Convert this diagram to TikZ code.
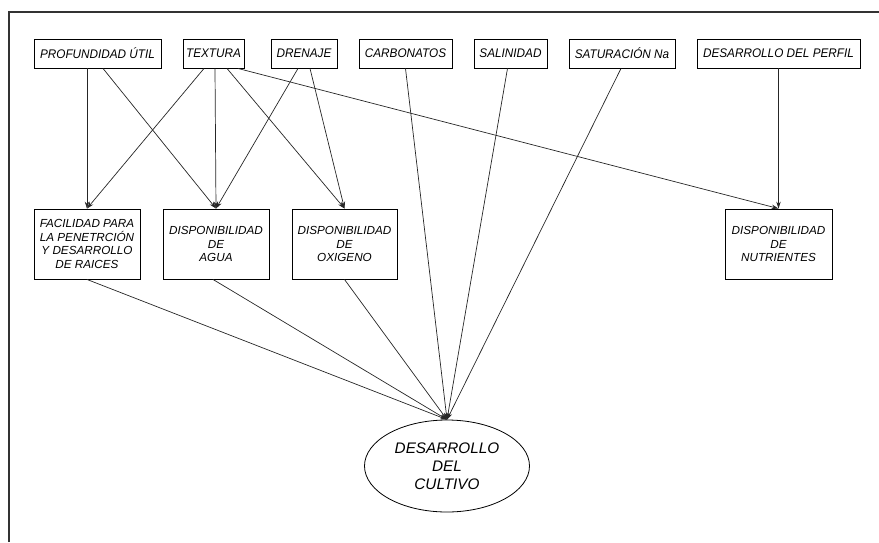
\documentclass[tikz,border=0pt]{standalone}
\usepackage{fontspec}
\setmainfont{Liberation Sans}
\newfontfamily\estrecha{Liberation Sans}[FakeStretch=0.94]
\usetikzlibrary{arrows.meta,shapes.geometric}

\begin{document}
\begin{tikzpicture}[x=1pt, y=-1pt,
	caja/.style={draw, line width=0.9pt, inner sep=0pt, minimum height=29pt, font=\estrecha\fontsize{12.5}{14}\selectfont\itshape},
	cajamedia/.style={draw, line width=0.9pt, inner sep=0pt, minimum width=106pt, minimum height=70pt, align=center, font=\fontsize{11.7}{13.6}\selectfont\itshape},
	flecha/.style={draw=black!85, line width=0.7pt, -{Stealth[length=7pt,width=4.5pt]}}]
			\useasboundingbox (0,0) rectangle (879,542);
			% marco
			\draw [line width=2pt, black!80] (9,542) -- (9,12) -- (879,12);
			% factores
			\node[caja, minimum width=127pt] (prof) at (97.5,53.5) {PROFUNDIDAD ÚTIL};
			\node[caja, minimum width=61pt] (text) at (213.5,53.5) {TEXTURA};
			\node[caja, minimum width=66pt] (dren) at (304,53.5) {DRENAJE};
			\node[caja, minimum width=93pt] (carb) at (405.5,53.5) {CARBONATOS};
			\node[caja, minimum width=73pt] (sal) at (510.5,53.5) {SALINIDAD};
			\node[caja, minimum width=106pt] (sat) at (622,53.5) {SATURACIÓN Na};
			\node[caja, minimum width=163pt] (perf) at (778.5,53.5) {DESARROLLO DEL PERFIL};
			% cualidades
			\node[cajamedia] (fac) at (87,244) {FACILIDAD PARA\\LA PENETRCIÓN\\Y DESARROLLO\\DE RAICES};
			\node[cajamedia] (agua) at (216,244) {DISPONIBILIDAD\\DE\\AGUA};
			\node[cajamedia, minimum width=105pt] (oxi) at (344.5,244) {DISPONIBILIDAD\\DE\\OXIGENO};
			\node[cajamedia, minimum width=107pt] (nut) at (778.5,244) {DISPONIBILIDAD\\DE\\NUTRIENTES};
			% cultivo
			\node[ellipse, draw, line width=0.8pt, minimum width=165pt, minimum height=92pt, inner sep=0pt, align=center, font=\fontsize{15.3}{18}\selectfont\itshape] (cult) at (447,466) {DESARROLLO\\DEL\\CULTIVO};
			% relaciones
			\draw[flecha] ([xshift=-10.5pt]prof.south) -- (fac.north);
			\draw[flecha] ([xshift=5.5pt]prof.south) -- (agua.north);
			\draw[flecha] ([xshift=-9.5pt]text.south) -- (fac.north);
			\draw[flecha] ([xshift=1.5pt]text.south) -- (agua.north);
			\draw[flecha] ([xshift=13.5pt]text.south) -- (oxi.north);
			\draw[flecha] ([xshift=24.5pt]text.south) -- (nut.north);
			\draw[flecha] ([xshift=-6pt]dren.south) -- (agua.north);
			\draw[flecha] ([xshift=6pt]dren.south) -- (oxi.north);
			\draw[flecha] (carb.south) -- (cult.north);
			\draw[flecha] ([xshift=-3pt]sal.south) -- (cult.north);
			\draw[flecha] ([xshift=-1pt]sat.south) -- (cult.north);
			\draw[flecha] (perf.south) -- (nut.north);
			\draw[flecha] (fac.south) -- (cult.north);
			\draw[flecha] ([xshift=-3pt]agua.south) -- (cult.north);
			\draw[flecha] (oxi.south) -- (cult.north);
		\end{tikzpicture}
\end{document}
